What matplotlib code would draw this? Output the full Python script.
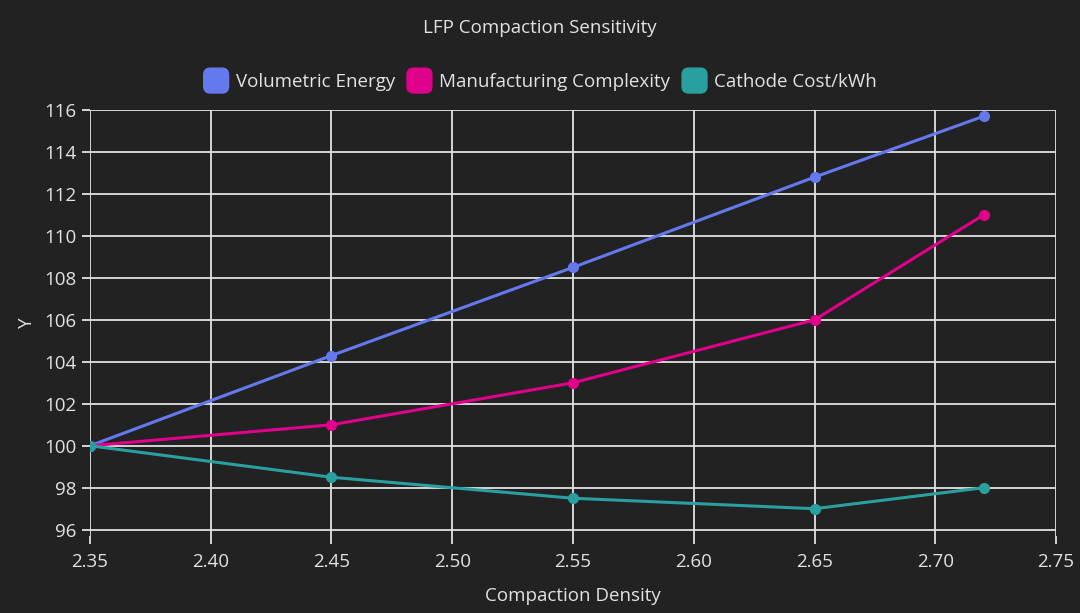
import matplotlib.pyplot as plt
from matplotlib.patches import FancyBboxPatch
from matplotlib.legend_handler import HandlerBase

plt.rcParams['font.family'] = ['Open Sans', 'DejaVu Sans']

density = [2.35, 2.45, 2.55, 2.65, 2.72]
vol_energy = [100, 104.3, 108.5, 112.8, 115.7]
mfg_complexity = [100, 101, 103, 106, 111]
cathode_cost = [100, 98.5, 97.5, 97, 98]

names = ['Volumetric Energy', 'Manufacturing Complexity', 'Cathode Cost/kWh']
colors = ['#6479EE', '#E0008C', '#2A9FA0']

bg = '#222222'
fg = '#E2E2E2'


class RoundBox(HandlerBase):
    def create_artists(self, legend, orig, xd, yd, w, h, fs, trans):
        s = h * 2.0
        p = FancyBboxPatch((xd + (w - s) / 2, yd + (h - s) / 2), s, s,
                           boxstyle='round,pad=0,rounding_size=%f' % (s * 0.28),
                           facecolor=orig.get_color(), edgecolor='none',
                           transform=trans)
        return [p]


fig = plt.figure(figsize=(10.8, 6.13), dpi=100, facecolor=bg)
ax = fig.add_axes([0.0833, 0.1256, 0.8945, 0.695])
ax.set_facecolor(bg)

lines = []
for ys, c, n in zip([vol_energy, mfg_complexity, cathode_cost], colors, names):
    ln, = ax.plot(density, ys, color=c, lw=2.2, marker='o', ms=7, label=n, zorder=3)
    lines.append(ln)

ax.set_xlim(2.35, 2.75)
ax.set_ylim(95.7, 116)
ax.set_xticks([2.35, 2.40, 2.45, 2.50, 2.55, 2.60, 2.65, 2.70, 2.75])
ax.set_xticklabels(['%.2f' % v for v in ax.get_xticks()])
ax.set_yticks(range(96, 117, 2))
ax.grid(True, color=fg, lw=1.3)
for s in ax.spines.values():
    s.set_visible(False)
ax.tick_params(colors=fg, labelcolor=fg, labelsize=13.5, length=6, width=1.3)
ax.tick_params(axis='x', pad=6)

ax.set_xlabel('Compaction Density', color=fg, fontsize=13.5, labelpad=12)
ax.set_ylabel('Y', color=fg, fontsize=13.5, labelpad=6)

fig.text(0.5, 0.955, 'LFP Compaction Sensitivity', color=fg, fontsize=13.5,
         ha='center', va='center')

fig.legend(handles=lines, loc='center', bbox_to_anchor=(0.5, 0.866), ncol=3,
           frameon=False, fontsize=13.5, labelcolor=fg,
           handler_map={ln: RoundBox() for ln in lines},
           handlelength=1.4, handletextpad=0.35, columnspacing=0.6)

fig.savefig('out.png', dpi=100, facecolor=bg)
